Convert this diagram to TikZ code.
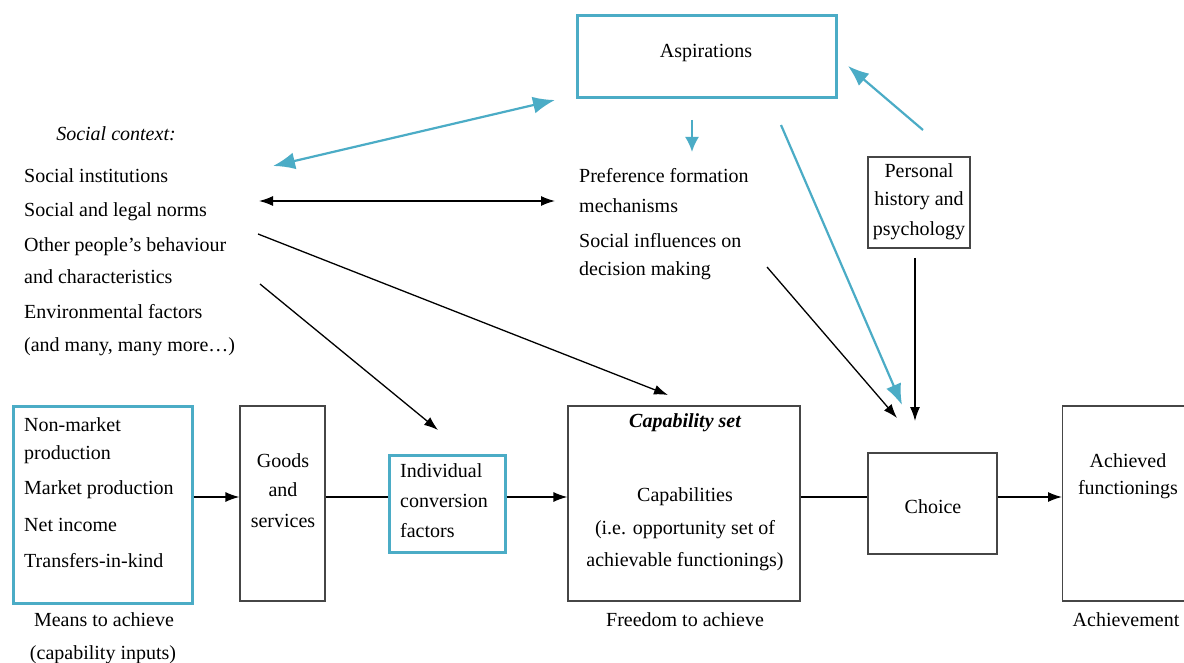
\documentclass[tikz,border=0pt]{standalone}
\usepackage{fontspec}
\setmainfont{Liberation Serif}
\usetikzlibrary{arrows.meta}
\definecolor{aqua}{RGB}{75,172,198}
\definecolor{edge}{RGB}{70,70,70}
\tikzset{
  txt/.style={inner sep=0pt, font=\fontsize{20}{23}\selectfont},
  bluebox/.style={draw=aqua, line width=3pt, inner sep=0pt},
  blackbox/.style={draw=edge, line width=1.2pt, inner sep=0pt},
  blk/.style={line width=1.3pt, -{Latex[length=14pt,width=10pt]}},
  blkline/.style={line width=1.3pt},
  blu/.style={draw=aqua, line width=2.2pt, -{Latex[length=22pt,width=17pt]}},
}
\begin{document}
\begin{tikzpicture}[x=1pt,y=1pt]
\useasboundingbox (0,0) rectangle (1184,-663);
\fill[white] (0,0) rectangle (1184,-663);

% boxes
\node[bluebox, minimum width=259pt, minimum height=82pt] (asp) at (706.5,-57) {};
\node[blackbox, minimum width=102pt, minimum height=91pt] (pers) at (919,-202.5) {};
\node[bluebox, minimum width=179pt, minimum height=197pt] (means) at (102.5,-504.5) {};
\node[blackbox, minimum width=85pt, minimum height=195pt] (goods) at (282.5,-503.5) {};
\node[bluebox, minimum width=116pt, minimum height=97pt] (icf) at (447,-503.5) {};
\node[blackbox, minimum width=232pt, minimum height=195pt] (cap) at (684,-503.5) {};
\node[blackbox, minimum width=129pt, minimum height=101pt] (choice) at (932.5,-503.5) {};
\node[blackbox, minimum width=140pt, minimum height=195pt, anchor=west] (ach) at (1062,-503.5) {};

% texts
\node[txt] (tasp) at (706,-53) {Aspirations};
\node[txt, font=\fontsize{20}{23}\selectfont\itshape] (tsc) at (116,-134) {Social context:};
\node[txt, anchor=west] (l1) at (24,-176) {Social institutions};
\node[txt, anchor=west] (l2) at (24,-212) {Social and legal norms};
\node[txt, anchor=west] (l3) at (24,-247) {Other people’s behaviour};
\node[txt, anchor=west] (l4) at (24,-277) {and characteristics};
\node[txt, anchor=west] (l5) at (24,-312) {Environmental factors};
\node[txt, anchor=west] (l6) at (24,-347) {(and many, many more…)};

\node[txt, anchor=west] (p1) at (579,-176) {Preference formation};
\node[txt, anchor=west] (p2) at (579,-206) {mechanisms};
\node[txt, anchor=west] (p3) at (579,-241) {Social influences on};
\node[txt, anchor=west] (p4) at (579,-271) {decision making};

\node[txt] (h1) at (919,-171) {Personal};
\node[txt] (h2) at (919,-201) {history and};
\node[txt] (h3) at (919,-231) {psychology};

\node[txt, anchor=west] (m1) at (24,-425) {Non-market};
\node[txt, anchor=west] (m2) at (24,-455) {production};
\node[txt, anchor=west] (m3) at (24,-490) {Market production};
\node[txt, anchor=west] (m4) at (24,-525) {Net income};
\node[txt, anchor=west] (m5) at (24,-561) {Transfers-in-kind};

\node[txt] (g1) at (283,-461) {Goods};
\node[txt] (g2) at (283,-490) {and};
\node[txt] (g3) at (283,-521) {services};

\node[txt, anchor=west] (i1) at (400,-471) {Individual};
\node[txt, anchor=west] (i2) at (400,-501) {conversion};
\node[txt, anchor=west] (i3) at (400,-531) {factors};

\node[txt, font=\fontsize{20}{23}\selectfont\bfseries\itshape] (c1) at (685,-423) {Capability set};
\node[txt] (c2) at (685,-497) {Capabilities};
\node[txt] (c3) at (685,-530) {(i.e. opportunity set of};
\node[txt] (c4) at (685,-562) {achievable functionings)};

\node[txt] (tch) at (933,-507) {Choice};
\node[txt] (a1) at (1128,-461) {Achieved};
\node[txt] (a2) at (1128,-490) {functionings};

\node[txt] (b1) at (104,-620) {Means to achieve};
\node[txt] (b2) at (103,-655) {(capability inputs)};
\node[txt] (b3) at (685,-620) {Freedom to achieve};
\node[txt] (b4) at (1126,-620) {Achievement};

% free-end coordinates
\coordinate (sc1) at (273,-166);
\coordinate (asp1) at (555,-100);
\coordinate (sc2) at (259,-201);
\coordinate (pf1) at (555,-201);
\coordinate (sc3) at (258,-234);
\coordinate (captop) at (668,-395);
\coordinate (sc4) at (260,-284);
\coordinate (icftop) at (438,-430);
\coordinate (asp2) at (692,-120);
\coordinate (pf2) at (692,-152);
\coordinate (asp3) at (781,-125);
\coordinate (chb) at (902,-405);
\coordinate (pf3) at (767,-267);
\coordinate (chk) at (897,-418);
\coordinate (ph1) at (923,-130);
\coordinate (asp4) at (848,-66);
\coordinate (ph2) at (915,-258);
\coordinate (chp) at (915,-421);
\coordinate (yrow) at (0,-497);

% connectors
\draw[blu, {Latex[length=22pt,width=17pt]}-{Latex[length=22pt,width=17pt]}] (sc1) -- (asp1);
\draw[blkline, {Latex[length=14pt,width=10pt]}-{Latex[length=14pt,width=10pt]}] (sc2) -- (pf1);
\draw[blk] (sc3) -- (captop);
\draw[blk] (sc4) -- (icftop);
\draw[draw=aqua, line width=2.2pt, -{Latex[length=15pt,width=14pt]}] (asp2) -- (pf2);
\draw[blu, -{Latex[length=21pt,width=16pt]}] (asp3) -- (chb);
\draw[blk] (pf3) -- (chk);
\draw[blu, -{Latex[length=21pt,width=16pt]}] (ph1) -- (asp4);
\draw[blk] (ph2) -- (chp);

\draw[blk] (means.east |- yrow) -- (goods.west |- yrow);
\draw[blkline] (goods.east |- yrow) -- (icf.west |- yrow);
\draw[blk] (icf.east |- yrow) -- (cap.west |- yrow);
\draw[blkline] (cap.east |- yrow) -- (choice.west |- yrow);
\draw[blk] (choice.east |- yrow) -- (ach.west |- yrow);
\end{tikzpicture}
\end{document}
